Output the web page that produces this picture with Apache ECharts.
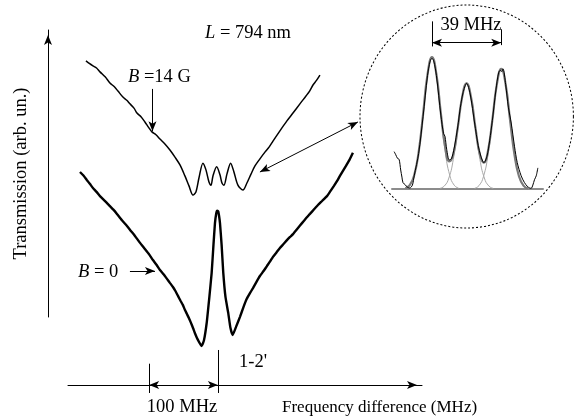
<!DOCTYPE html>
<html><head><meta charset="utf-8">
<script src="https://cdn.jsdelivr.net/npm/echarts@6/dist/echarts.min.js"></script>
<style>html,body{margin:0;padding:0;background:#fff}#c{width:574px;height:417px}</style>
</head><body><div id="c"></div>
<script>
// ---- Main traces: x = frequency difference (MHz, 0 at the 1-2' line), y = transmission (arb. un.)
const upper14G = [[-191.9,9.13],[-186.5,9.05],[-181.7,8.99],[-176.5,8.93],[-171.5,8.82],[-164.0,8.68],[-157.0,8.51],[-150.5,8.40],[-145.3,8.28],[-138.1,8.11],[-132.5,8.02],[-127.9,7.92],[-122.0,7.80],[-117.7,7.66],[-111.5,7.55],[-106.1,7.41],[-100.5,7.25],[-95.9,7.13],[-90.0,7.05],[-84.2,6.93],[-77.0,6.79],[-69.7,6.62],[-62.4,6.42],[-55.1,6.20],[-47.9,5.89],[-42.0,5.61],[-36.2,5.35],[-31.9,5.44],[-27.5,5.83],[-21.7,6.25],[-17.3,6.06],[-12.9,5.72],[-10.0,5.63],[-7.1,5.89],[-1.7,6.15],[3.1,5.92],[6.0,5.69],[8.9,5.63],[13.2,5.94],[18.6,6.25],[23.4,6.00],[29.2,5.63],[36.5,5.49],[42.3,5.69],[48.2,5.94],[54.0,6.17],[61.2,6.37],[68.5,6.56],[74.5,6.70],[80.2,6.87],[90.3,7.16],[100.5,7.44],[109.3,7.66],[119.4,7.92],[128.2,8.14],[133.5,8.28],[138.4,8.45],[143.5,8.58],[148.5,8.73]];
const lowerB0 = [[-200.6,6.00],[-195.5,5.90],[-190.4,5.77],[-186.0,5.66],[-181.7,5.55],[-176.5,5.44],[-171.5,5.32],[-164.0,5.18],[-157.0,5.04],[-152.0,4.94],[-146.8,4.82],[-139.5,4.64],[-132.2,4.48],[-126.5,4.34],[-120.6,4.20],[-113.5,4.01],[-106.1,3.83],[-100.0,3.68],[-94.4,3.52],[-89.0,3.38],[-84.2,3.24],[-79.0,3.12],[-74.0,2.99],[-69.5,2.87],[-65.3,2.76],[-61.5,2.64],[-58.0,2.51],[-54.5,2.38],[-50.8,2.25],[-48.0,2.12],[-45.0,2.00],[-42.0,1.88],[-39.1,1.75],[-36.0,1.60],[-33.3,1.46],[-29.0,1.27],[-23.6,1.10],[-20.2,1.26],[-16.3,1.74],[-12.5,2.45],[-9.0,3.16],[-6.4,3.94],[-4.2,4.56],[-2.3,4.84],[-0.9,4.91],[0.6,4.89],[1.8,4.76],[3.1,4.56],[5.5,3.94],[7.9,3.16],[11.1,2.48],[15.1,2.03],[18.3,1.61],[21.5,1.41],[26.3,1.63],[32.2,1.92],[37.0,2.18],[41.9,2.42],[46.5,2.58],[51.1,2.73],[56.0,2.90],[61.2,3.07],[66.5,3.21],[71.4,3.35],[76.0,3.48],[80.2,3.61],[85.5,3.74],[90.3,3.86],[95.5,3.97],[100.5,4.08],[105.0,4.17],[109.3,4.25],[116.0,4.41],[122.4,4.56],[128.0,4.69],[134.0,4.82],[140.0,4.95],[145.6,5.07],[152.0,5.19],[158.7,5.32],[164.0,5.47],[168.9,5.61],[173.5,5.75],[177.6,5.89],[182.0,6.03],[186.4,6.17],[191.5,6.34],[196.5,6.54]];

// ---- Inset: x = detuning (MHz, 0 at first component), y = normalized signal
const insetData = [[-21.3,0.283],[-20.4,0.26],[-19.4,0.232],[-18.5,0.225],[-17.6,0.144],[-16.9,0.09],[-16.3,0.048],[-14.9,0.03],[-13.8,0.013],[-12.5,0.008],[-11,0.03],[-10,0.1],[-7.5,0.27],[-5,0.55],[-2.5,0.86],[-1,0.97],[0,0.99],[1,0.97],[2.5,0.86],[5,0.56],[6.5,0.42],[7.3,0.40],[8.3,0.30],[9.75,0.22],[11,0.23],[12.5,0.31],[14.5,0.47],[16,0.62],[17.5,0.73],[19.5,0.80],[21.5,0.72],[24,0.50],[26,0.33],[27.5,0.25],[29.25,0.20],[31,0.25],[32.5,0.37],[34,0.52],[36,0.75],[37.5,0.88],[38.5,0.90],[39.2,0.89],[40,0.91],[41.5,0.79],[43,0.62],[44.6,0.50],[46.5,0.32],[48,0.20],[50.2,0.10],[52,0.05],[53.9,0.017],[55.8,0.005],[56.8,0.03],[57.7,0.07],[58.7,0.10],[59.6,0.16]];
const insetFitSum = [[-15,0.006],[-12.5,0.029],[-10,0.104],[-7.5,0.28],[-5,0.568],[-2.5,0.868],[0,1.0],[2.5,0.869],[5,0.575],[7.5,0.311],[9.75,0.209],[12,0.262],[14.5,0.463],[17,0.696],[19.5,0.8],[22,0.695],[24.5,0.462],[27,0.259],[29.25,0.199],[31.5,0.286],[34,0.524],[36.5,0.791],[39,0.91],[41.5,0.79],[44,0.517],[46.5,0.255],[49,0.095],[51.5,0.026],[54,0.005]];
const gauss1 = [[-15,0.006],[-12.5,0.029],[-10,0.104],[-7.5,0.28],[-5,0.568],[-2.5,0.868],[0,1],[2.5,0.868],[5,0.568],[7.5,0.28],[10,0.104],[12.5,0.029],[15,0.006]];
const gauss2 = [[4.5,0.005],[7,0.023],[9.5,0.083],[12,0.224],[14.5,0.454],[17,0.694],[19.5,0.8],[22,0.694],[24.5,0.454],[27,0.224],[29.5,0.083],[32,0.023],[34.5,0.005]];
const gauss3 = [[24,0.005],[26.5,0.026],[29,0.095],[31.5,0.255],[34,0.517],[36.5,0.79],[39,0.91],[41.5,0.79],[44,0.517],[46.5,0.255],[49,0.095],[51.5,0.026],[54,0.005]];

// ---- Annotation anchors (data units)
const arrow14G = [[-95.1,8.34],[-95.1,7.15]];
const arrowB0 = [[-127.9,3.21],[-91.5,3.21]];
const arrowInset = [[61.2,6.0],[203.8,7.41]];
const span100 = [[-100,0],[0,0]];
const tick100L = [[-100,0.60],[-100,-0.225]];
const tick100R = [[0,0.986],[0,-0.225]];
const span39 = [[0,1.108],[39,1.108]];
const tick39L = [[0,1.27],[0,1.08]];
const tick39R = [[39,1.21],[39,1.09]];

const SERIF = '"Liberation Serif","Times New Roman",serif';
const FS = 18.5;

function seg(p, s0, s1){ return [{coord:p[0], symbol:s0}, {coord:p[1], symbol:s1}]; }
function txt(x, y, text, align, fs){
  const f = fs || FS;
  return {type:'text', x:x, y:y, silent:true, style:{text:text, fontFamily:SERIF, fontSize:f, fill:'#000',
    align:align||'left', verticalAlign:'middle', textAlign:align||'left', textVerticalAlign:'middle',
    rich:{i:{fontStyle:'italic', fontFamily:SERIF, fontSize:f, fill:'#000'}, n:{fontFamily:SERIF, fontSize:f, fill:'#000'}}}};
}
const mlBase = {silent:true, animation:false, symbolSize:[6,10], label:{show:false}, emphasis:{disabled:true},
  lineStyle:{color:'#000', width:1, type:'solid'}};

const chart = echarts.init(document.getElementById('c'), null, {renderer:'canvas'});
chart.setOption({
  animation:false,
  backgroundColor:'#fff',
  grid:[
    {left:68, right:152, top:30, bottom:14.25},
    {left:48, width:10, top:30, height:287},
    {left:392, width:151, top:17.4, bottom:228}
  ],
  xAxis:[
    {gridIndex:0, type:'value', min:-218, max:297, axisLine:{show:true, onZero:true, symbol:['none','arrow'], symbolSize:[6,10], symbolOffset:[0,-5], lineStyle:{color:'#000', width:1}}, axisTick:{show:false}, axisLabel:{show:false}, splitLine:{show:false}},
    {gridIndex:1, type:'value', min:0, max:1, show:false},
    {gridIndex:2, type:'value', min:-22.5, max:62.5, axisLine:{show:true, onZero:true, lineStyle:{color:'#8c8c8c', width:2}}, axisTick:{show:false}, axisLabel:{show:false}, splitLine:{show:false}}
  ],
  yAxis:[
    {gridIndex:0, type:'value', min:-0.5, max:10, axisLine:{show:false}, axisTick:{show:false}, axisLabel:{show:false}, splitLine:{show:false}},
    {gridIndex:1, type:'value', min:0, max:1, axisLine:{show:true, onZero:false, symbol:['none','arrow'], symbolSize:[6,10], symbolOffset:[0,-5], lineStyle:{color:'#000', width:1}}, axisTick:{show:false}, axisLabel:{show:false}, splitLine:{show:false},
      name:'Transmission (arb. un.)', nameLocation:'middle', nameRotate:90, nameGap:17, nameTextStyle:{fontFamily:SERIF, fontSize:FS, color:'#000'}},
    {gridIndex:2, type:'value', min:0, max:1.3, axisLine:{show:false}, axisTick:{show:false}, axisLabel:{show:false}, splitLine:{show:false}}
  ],
  series:[
    {type:'line', name:'B = 14 G', xAxisIndex:0, yAxisIndex:0, data:upper14G, symbol:'none', smooth:0.3, clip:false,
      lineStyle:{color:'#000', width:1.5}, emphasis:{disabled:true},
      markLine:Object.assign({}, mlBase, {data:[seg(arrow14G,'none','arrow'), seg(arrowInset,'arrow','arrow'), seg(arrowB0,'none','arrow'), seg(span100,'arrow','arrow'), seg(tick100L,'none','none'), seg(tick100R,'none','none')]})},
    {type:'line', name:'B = 0', xAxisIndex:0, yAxisIndex:0, data:lowerB0, symbol:'none', smooth:0.15, clip:false,
      lineStyle:{color:'#000', width:2.4}, emphasis:{disabled:true}},
    {type:'line', xAxisIndex:2, yAxisIndex:2, data:gauss1, symbol:'none', smooth:true, lineStyle:{color:'#a8a8a8', width:1}, emphasis:{disabled:true}},
    {type:'line', xAxisIndex:2, yAxisIndex:2, data:gauss2, symbol:'none', smooth:true, lineStyle:{color:'#a8a8a8', width:1}, emphasis:{disabled:true}},
    {type:'line', xAxisIndex:2, yAxisIndex:2, data:gauss3, symbol:'none', smooth:true, lineStyle:{color:'#a8a8a8', width:1}, emphasis:{disabled:true}},
    {type:'line', xAxisIndex:2, yAxisIndex:2, data:insetFitSum, symbol:'none', smooth:true, lineStyle:{color:'#7a7a7a', width:2.2}, emphasis:{disabled:true}},
    {type:'line', xAxisIndex:2, yAxisIndex:2, data:insetData, symbol:'none', smooth:0.3, lineStyle:{color:'#000', width:1}, emphasis:{disabled:true},
      markLine:Object.assign({}, mlBase, {data:[seg(span39,'arrow','arrow'), seg(tick39L,'none','none'), seg(tick39R,'none','none')]})}
  ],
  graphic:[
    {type:'circle', silent:true, x:466.7, y:116.5, scaleY:1.045, shape:{cx:0, cy:0, r:106.7}, style:{fill:'none', stroke:'#000', lineWidth:1, lineDash:[2,2], strokeNoScale:true}},
    txt(248, 33, '{i|L}{n| = 794 nm}', 'center'),
    txt(128, 77, '{i|B}{n| =14 G}'),
    txt(78, 272, '{i|B}{n| = 0}'),
    txt(239, 362, "1-2'"),
    txt(182, 407, '100 MHz', 'center'),
    txt(282, 408, 'Frequency difference (MHz)', 'left', 17),
    txt(471, 25, '39 MHz', 'center')
  ]
});
</script></body></html>
